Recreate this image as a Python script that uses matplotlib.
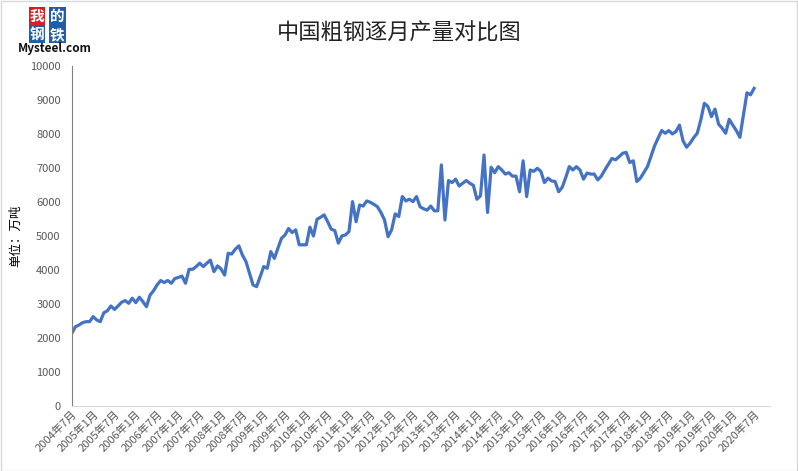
import numpy as np
import pandas as pd
import matplotlib
matplotlib.use("Agg")
import matplotlib.pyplot as plt
from matplotlib.patches import Rectangle

plt.rcParams['font.family'] = ['Noto Sans CJK SC', 'DejaVu Sans']

# monthly crude steel output, 10k tonnes, from 2004-07
seg_a = [2140, 2330, 2380, 2450, 2480, 2480, 2630, 2530, 2480, 2740, 2800,
         2940, 2840, 2940, 3050, 3100, 3020, 3170, 3040, 3200, 3070, 2920,
         3260, 3390, 3560, 3690, 3630, 3690, 3610, 3750, 3780, 3820,
         3610, 4020, 4020, 4100, 4200, 4100, 4200, 4290, 3950, 4120,
         4030, 3850, 4490, 4470, 4610, 4710, 4440, 4250, 3900, 3560,
         3510, 3800, 4100, 4050, 4540, 4340, 4640, 4930, 5030, 5220,
         5100, 5180, 4740]
seg_b = [4740, 4740, 5260, 5000, 5490, 5550, 5620, 5420, 5200, 5160, 4790,
         5000, 5030, 5130, 6010, 5420, 5910, 5880, 6030, 5990, 5930,
         5860, 5690, 5470, 4980, 5180, 5650, 5570, 6160, 6030, 6080,
         6010, 6160, 5860, 5800, 5760, 5880, 5740, 5740, 7090, 5470, 6630,
         6570, 6670, 6470, 6550, 6630, 6550, 6490, 6080, 6180, 7380,
         5690, 7020, 6860, 7040, 6940, 6820, 6860, 6760, 6760, 6300]
seg_c = [7210, 6160, 6940, 6900, 6990, 6900, 6570, 6700, 6620, 6600,
         6300, 6430, 6720, 7040, 6940, 7040, 6940, 6670, 6850, 6820,
         6820, 6650, 6760, 6940, 7110, 7280, 7240, 7330, 7430, 7460,
         7160, 7210, 6600, 6700, 6870, 7040, 7350, 7650, 7880, 8100, 8020, 8100,
         8000, 8070, 8260, 7800, 7610, 7730, 7890, 8020, 8410, 8900,
         8810, 8510, 8730, 8290, 8170, 8020, 8430, 8260, 8100, 7900,
         8550, 9210, 9150, 9340]
values = seg_a + seg_b + seg_c
months = pd.date_range('2004-07-01', periods=len(values), freq='MS')
tick_idx = list(range(0, len(values), 6))
tick_labels = [f"{months[i].year}年{months[i].month}月" for i in tick_idx]

fig = plt.figure(figsize=(7.98, 4.71), dpi=100)
fig.patches.append(Rectangle((0.001, 0.001), 0.998, 0.997, transform=fig.transFigure,
                             fill=False, edgecolor='#d9d9d9', linewidth=1))
ax = fig.add_axes([0.090, 0.138, 0.875, 0.722])
ax.plot(range(len(values)), values, color='#4472C4', linewidth=2.3)

ax.set_ylim(0, 10000)
ax.set_yticks(range(0, 10001, 1000))
ax.set_xlim(0, 196.5)
ax.set_xticks(tick_idx)
ax.set_xticklabels(tick_labels, rotation=45, ha='right', rotation_mode='anchor', fontsize=8, color='#595959')
ax.tick_params(axis='y', labelsize=8, labelcolor='#595959', length=0, pad=8)
ax.tick_params(axis='x', length=0, pad=2)
for s in ['top', 'right']:
    ax.spines[s].set_visible(False)
ax.spines['left'].set_color('#808080')
ax.spines['bottom'].set_color('#d9d9d9')
ax.set_ylabel('单位：万吨', fontsize=9, labelpad=6)

fig.text(0.5, 0.93, '中国粗钢逐月产量对比图', ha='center', va='center', fontsize=16, color='#222222')

# logo
for (x, y, ch, c) in [(0.046, 0.966, '我', '#d7201f'), (0.072, 0.966, '的', '#1f5fa8'),
                      (0.046, 0.928, '钢', '#1f5fa8'), (0.072, 0.928, '铁', '#1f5fa8')]:
    fig.text(x, y, ch, ha='center', va='center', fontsize=10.5, color='white', weight='bold',
             bbox=dict(boxstyle='square,pad=0.06', fc=c, ec='none'))
fig.text(0.022, 0.898, 'Mysteel.com', ha='left', va='center', fontsize=8.5, weight='bold', color='#111111')

fig.savefig('out.png', dpi=100)
